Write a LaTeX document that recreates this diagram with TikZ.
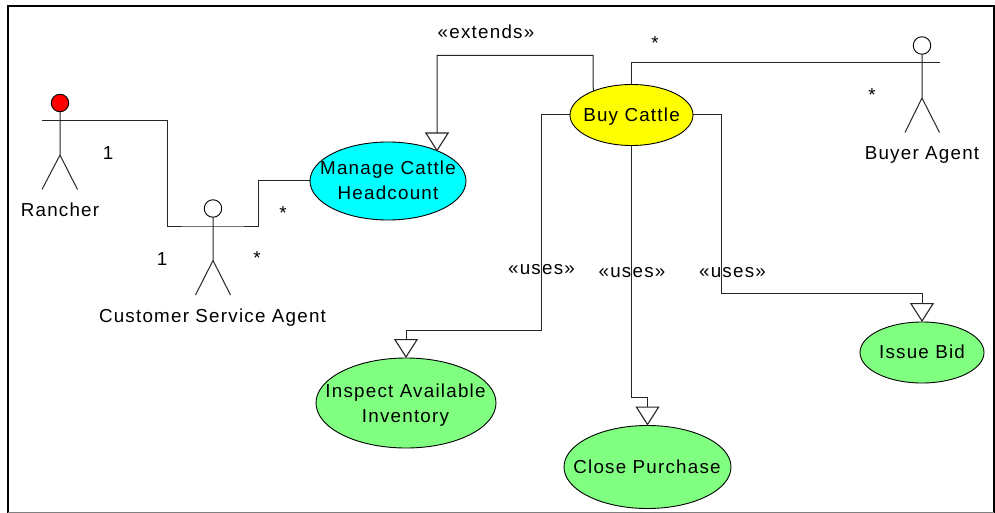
\documentclass[tikz,border=0pt]{standalone}
\usepackage{fontspec}
\setmainfont[LetterSpace=6.5]{Liberation Sans}
\usetikzlibrary{arrows.meta,shapes.geometric}
\definecolor{ucgreen}{RGB}{128,255,128}
\definecolor{uccyan}{RGB}{0,255,255}
\definecolor{ucyellow}{RGB}{255,255,0}
\definecolor{ucred}{RGB}{255,0,0}
\tikzset{
  usecase/.style={ellipse,draw=black,line width=0.9pt,inner sep=0pt,outer sep=0pt,minimum width=#1},
  ucheight/.style={minimum height=#1},
  label text/.style={font=\fontsize{18.8}{25}\selectfont,align=center,inner sep=0pt,text=black},
  conn/.style={draw=black!85,line width=1pt},
  gen/.style={conn,-{Triangle[open,fill=white,length=19pt,width=24pt,line width=1.1pt]}},
  head/.style={circle,draw=black,line width=0.9pt,minimum size=17.5pt,inner sep=0pt,outer sep=0pt},
  limb/.style={draw=black!85,line width=1pt}
}
\begin{document}
\begin{tikzpicture}[x=1pt,y=-1pt]
\useasboundingbox (0,0) rectangle (995,513);
\fill[white] (0,0) rectangle (995,513);
% frame
\draw[black,line width=2pt] (7.5,513) -- (7.5,6) -- (994,6) -- (994,513);
\draw[black!50,line width=1pt] (7.5,512.3) -- (994,512.3);

% actors
\node[head,fill=ucred] (ranH) at (60,103) {};
\coordinate (ranA) at (42,120.5);
\coordinate (ranB) at (78,120.5);
\coordinate (ranC) at (60,155);
\coordinate (ranL) at (42,189.5);
\coordinate (ranR) at (77.5,189.5);
\draw[limb] (ranH.south) -- (ranC) (ranL) -- (ranC) -- (ranR);
\node[label text] (ranT) at (60,210) {Rancher};

\node[head,fill=white] (csaH) at (213,208.5) {};
\coordinate (csaA) at (195.5,226);
\coordinate (csaB) at (230.5,226);
\coordinate (csaC) at (213,260.5);
\coordinate (csaL) at (195.5,295);
\coordinate (csaR) at (230.5,295);
\draw[limb] (csaH.south) -- (csaC) (csaL) -- (csaC) -- (csaR);
\node[label text] (csaT) at (212.5,318) {Customer Service Agent};

\node[head,fill=white] (buyerH) at (922,45.5) {};
\coordinate (buyerA) at (905,62.5);
\coordinate (buyerB) at (940,62.5);
\coordinate (buyerC) at (922,98);
\coordinate (buyerL) at (905,132.5);
\coordinate (buyerR) at (939.5,132.5);
\draw[limb] (buyerH.south) -- (buyerC) (buyerL) -- (buyerC) -- (buyerR);
\node[label text] (buyerT) at (922,155) {Buyer Agent};

% use cases
\node[usecase=156pt,ucheight=78pt,fill=uccyan] (manage) at (388,181) {};
\node[usecase=123pt,ucheight=61pt,fill=ucyellow] (buy) at (631.5,115) {};
\node[usecase=180pt,ucheight=90pt,fill=ucgreen] (inspect) at (406,403) {};
\node[usecase=167pt,ucheight=83pt,fill=ucgreen] (close) at (647.5,467) {};
\node[usecase=124pt,ucheight=61pt,fill=ucgreen] (issue) at (922,352.5) {};

% connectors
\draw[conn] (ranA) -- (ranB) -- (167,120.5) -- (167,226) -- (csaA) -- (csaB) -- (258.5,226) -- (258.5,181) -- (manage.west);
\draw[conn] (buy.north) -- (631.5,62.5) -- (buyerA) -- (buyerB);
\draw[gen] (buy.148) -- (593,55.5) -- (437,55.5) -- (437,151.5);
\draw[gen] (buy.west) -- (541.5,115) -- (541.5,330) -- (406,330) -- (inspect.north);
\draw[gen] (buy.south) -- (631.5,397) -- (647.5,397) -- (close.north);
\draw[gen] (buy.east) -- (721.5,115) -- (721.5,293) -- (922,293) -- (issue.north);

% use case texts
\node[label text] (manageT) at (388,180) {Manage Cattle\\Headcount};
\node[label text] (buyT) at (631.5,117) {Buy Cattle};
\node[label text] (inspectT) at (405.5,405) {Inspect Available\\Inventory};
\node[label text] (closeT) at (647,466.5) {Close Purchase};
\node[label text] (issueT) at (922,352) {Issue Bid};

% stereotypes and multiplicities
\node[label text] (l1) at (486,32) {«extends»};
\node[label text] (l2) at (541.5,269.5) {«uses»};
\node[label text] (l3) at (632,272.5) {«uses»};
\node[label text] (l4) at (732.5,272.5) {«uses»};
\node[label text] (m1) at (108,153) {1};
\node[label text] (m2) at (162,259) {1};
\node[label text] (m3) at (283,213) {*};
\node[label text] (m4) at (257,258) {*};
\node[label text] (m5) at (655,43) {*};
\node[label text] (m6) at (872,95) {*};
\end{tikzpicture}
\end{document}
